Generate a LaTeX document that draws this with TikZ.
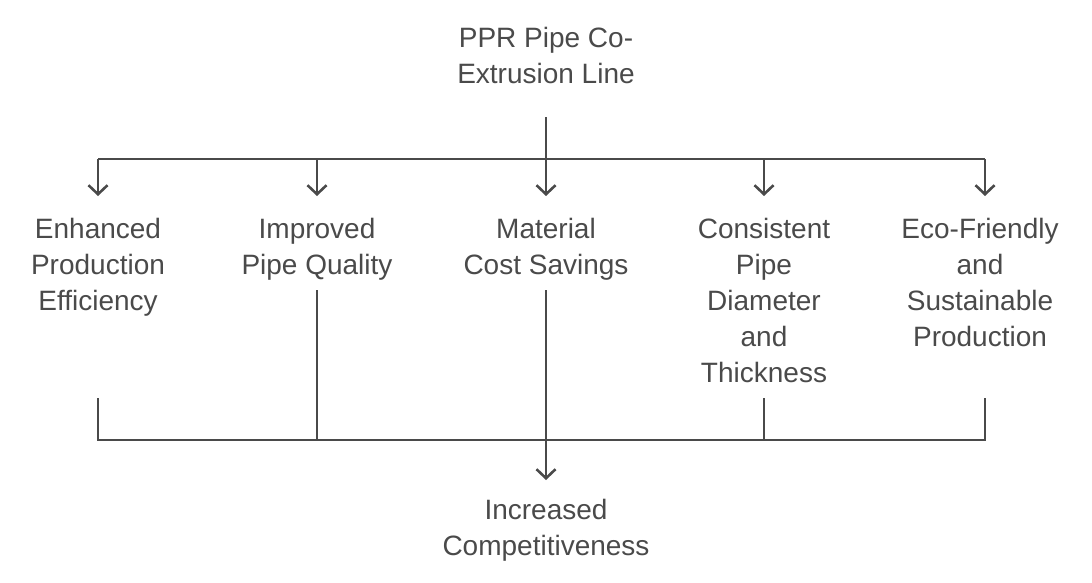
\documentclass[tikz,border=0pt]{standalone}
\usepackage{fontspec}
\setmainfont{Liberation Sans}
\usetikzlibrary{arrows.meta}
\definecolor{lineGray}{HTML}{4A4A4A}
\definecolor{textGray}{HTML}{4A4A4A}
\tikzset{Label/.style = {anchor=north, align=center, inner sep=0pt,
            text=textGray, font=\fontsize{28}{36}\selectfont},
         Link/.style  = {draw=lineGray, line width=2.6pt},
         Tip/.style   = {-{Straight Barb[length=9pt,width=19pt,line width=2.6pt]}}}
\begin{document}
\begin{tikzpicture}[x=1pt, y=-1pt]
        \useasboundingbox (0,0) rectangle (1092,582);
        % top and bottom
        \node[Label] (Line) at (546,27) {PPR Pipe Co-\\Extrusion Line};
        \node[Label] (Comp) at (546,499) {Increased\\Competitiveness};
        \coordinate (Top) at (546,117);
        \coordinate (Hub) at (546,159);
        \coordinate (Foot) at (546,440);
        % the five benefits
        \node[Label] (Effi) at (98,218) {Enhanced\\Production\\Efficiency};
        \node[Label] (Qual) at (317,218) {Improved\\Pipe Quality};
        \node[Label] (Cost) at (546,218) {Material\\Cost Savings};
        \node[Label] (Diam) at (764,218) {Consistent\\Pipe\\Diameter\\and\\Thickness};
        \node[Label] (Eco) at (980,218) {Eco-Friendly\\and\\Sustainable\\Production};
        \draw[Link] (Top) -- (Hub);
        \draw[Link] (98,159) -- (985,159);
        \foreach \x in {98,317,546,764,985}
            \draw[Link, Tip] (\x,159) -- (\x,196);
        \draw[Link] (98,398) |- (985,440) -- (985,398);
        \draw[Link] (317,290) -- (317,440);
        \draw[Link] (764,398) -- (764,440);
        \draw[Link] (546,290) -- (Foot);
        \draw[Link, Tip] (Foot) -- (546,480);
\end{tikzpicture}
\end{document}
